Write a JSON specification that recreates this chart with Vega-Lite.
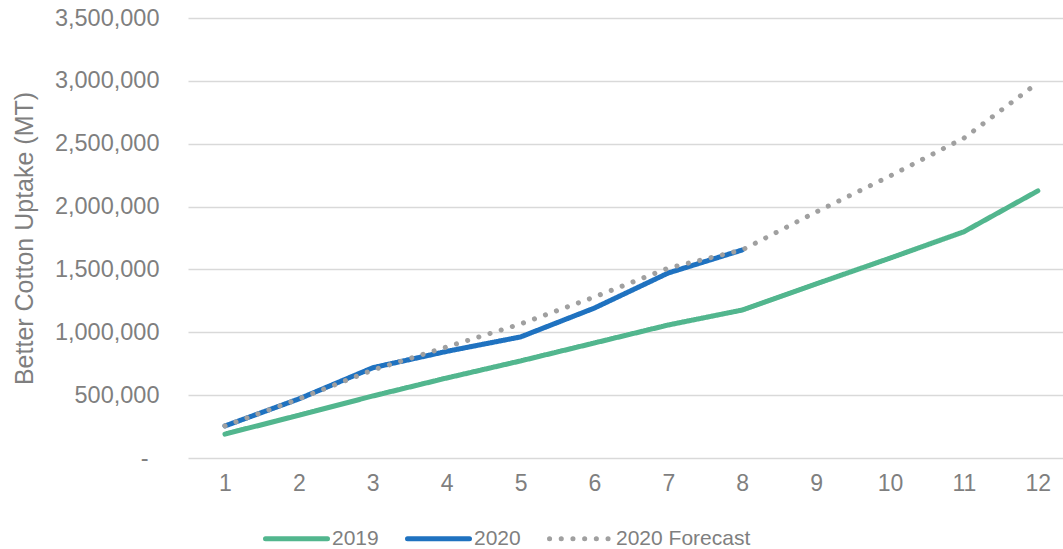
{
  "$schema": "https://vega.github.io/schema/vega-lite/v6.json",
  "autosize": "none",
  "width": 875,
  "height": 440,
  "padding": {"left": 188, "top": 18, "right": 0, "bottom": 91},
  "background": "white",
  "config": {
    "font": "Liberation Sans",
    "view": {"stroke": null},
    "axis": {"labelColor": "#7f7f7f", "titleColor": "#7f7f7f", "labelFont": "Liberation Sans", "titleFont": "Liberation Sans"}
  },
  "data": {
    "values": [
      {"month": 1, "series": "2019", "value": 190000},
      {"month": 2, "series": "2019", "value": 340000},
      {"month": 3, "series": "2019", "value": 493000},
      {"month": 4, "series": "2019", "value": 636000},
      {"month": 5, "series": "2019", "value": 772000},
      {"month": 6, "series": "2019", "value": 915000},
      {"month": 7, "series": "2019", "value": 1058000},
      {"month": 8, "series": "2019", "value": 1177000},
      {"month": 9, "series": "2019", "value": 1385000},
      {"month": 10, "series": "2019", "value": 1590000},
      {"month": 11, "series": "2019", "value": 1800000},
      {"month": 12, "series": "2019", "value": 2125000},
      {"month": 1, "series": "2020", "value": 255000},
      {"month": 2, "series": "2020", "value": 470000},
      {"month": 3, "series": "2020", "value": 718000},
      {"month": 4, "series": "2020", "value": 848000},
      {"month": 5, "series": "2020", "value": 963000},
      {"month": 6, "series": "2020", "value": 1193000},
      {"month": 7, "series": "2020", "value": 1472000},
      {"month": 8, "series": "2020", "value": 1655000},
      {"month": 1, "series": "2020 Forecast", "value": 255000},
      {"month": 2, "series": "2020 Forecast", "value": 470000},
      {"month": 3, "series": "2020 Forecast", "value": 700000},
      {"month": 4, "series": "2020 Forecast", "value": 883000},
      {"month": 5, "series": "2020 Forecast", "value": 1066000},
      {"month": 6, "series": "2020 Forecast", "value": 1281000},
      {"month": 7, "series": "2020 Forecast", "value": 1511000},
      {"month": 8, "series": "2020 Forecast", "value": 1655000},
      {"month": 9, "series": "2020 Forecast", "value": 1957000},
      {"month": 10, "series": "2020 Forecast", "value": 2243000},
      {"month": 11, "series": "2020 Forecast", "value": 2545000},
      {"month": 12, "series": "2020 Forecast", "value": 2985000}
    ]
  },
  "mark": {"type": "line", "strokeWidth": 5, "strokeCap": "round", "strokeJoin": "round", "clip": false},
  "encoding": {
    "x": {
      "field": "month", "type": "quantitative",
      "scale": {"domain": [0.5, 12.34], "nice": false, "zero": false},
      "axis": {"values": [1,2,3,4,5,6,7,8,9,10,11,12], "grid": false, "domain": false, "ticks": false, "labelFontSize": 23, "labelPadding": 14, "title": null, "format": "d"}
    },
    "y": {
      "field": "value", "type": "quantitative",
      "scale": {"domain": [0, 3500000], "nice": false},
      "axis": {
        "values": [0, 500000, 1000000, 1500000, 2000000, 2500000, 3000000, 3500000],
        "labelExpr": "datum.value == 0 ? '-' : format(datum.value, ',')",
        "domain": false, "ticks": false,
        "labelPadding": {"condition": {"test": "datum.value == 0", "value": 40}, "value": 29},
        "labelFontSize": 23.5,
        "gridColor": "#d9d9d9", "gridWidth": 1.5,
        "title": "Better Cotton Uptake (MT)", "titleFontSize": 25, "titleFontWeight": "normal", "titlePadding": 17
      }
    },
    "color": {
      "field": "series", "type": "nominal",
      "scale": {"domain": ["2019", "2020", "2020 Forecast"], "range": ["#52b68e", "#1f72c0", "#a0a0a0"]},
      "legend": {
        "title": null, "orient": "none", "direction": "horizontal", "legendX": 75, "legendY": 487,
        "labelFontSize": 21, "labelColor": "#7f7f7f", "symbolType": "stroke", "symbolSize": 3844, "symbolStrokeWidth": 5,
        "labelOffset": 2, "columnPadding": 18,
        "encode": {"symbols": {"update": {"strokeCap": {"value": "round"}}}}
      }
    },
    "strokeDash": {
      "field": "series", "type": "nominal",
      "scale": {"domain": ["2019", "2020", "2020 Forecast"], "range": [[1, 0], [1, 0], [0.1, 11.6]]},
      "legend": null
    }
  }
}
